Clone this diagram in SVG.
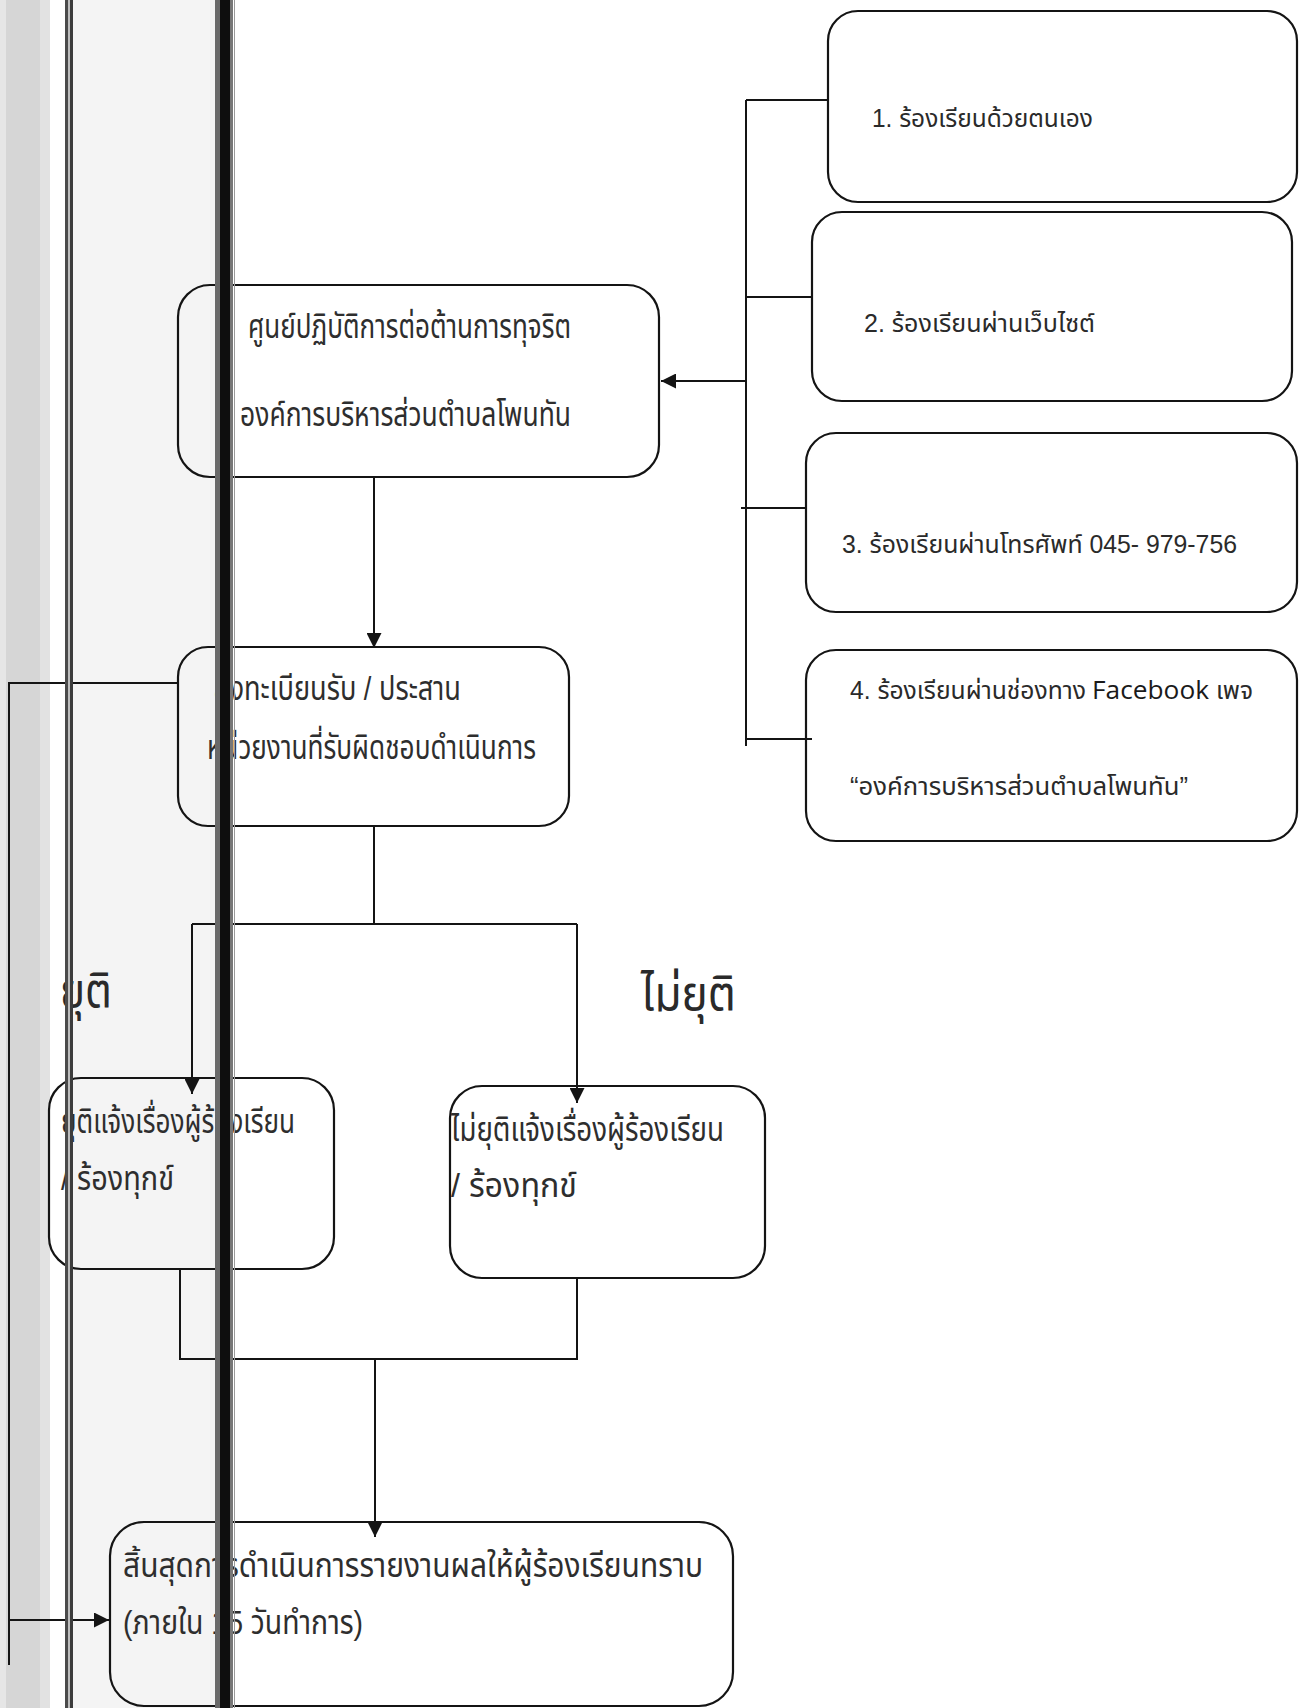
<svg xmlns="http://www.w3.org/2000/svg" width="1303" height="1708" viewBox="0 0 1303 1708">
<defs>
<style>
.box{fill:none;stroke:#141414;stroke-width:2.2}
.ln{fill:none;stroke:#141414;stroke-width:2}
.tl{font-family:"Liberation Sans","Noto Sans Thai","Noto Sans",sans-serif;fill:#2e2e2e;font-size:33px}
.tr{font-family:"Liberation Sans","Noto Sans Thai","Noto Sans",sans-serif;fill:#2a2a2a;font-size:25px}
.fb{font-family:"Open Sans","Lato",sans-serif;fill:#1a1a1a;font-size:25px}
.big{font-family:"Liberation Sans","Noto Sans Thai","Noto Sans",sans-serif;fill:#2a2a2a;font-size:50px}
</style>
<marker id="arr" viewBox="0 0 10 10" refX="10" refY="5" markerWidth="17" markerHeight="15" markerUnits="userSpaceOnUse" orient="auto">
<path d="M0,0 L10,5 L0,10 z" fill="#141414"/>
</marker>
</defs>
<rect x="0" y="0" width="1303" height="1708" fill="#ffffff"/>
<g id="scan-bg">
<rect x="0" y="0" width="50" height="1708" fill="#d6d6d6"/>
<rect x="0" y="0" width="6" height="1708" fill="#e6e6e6"/>
<rect x="40" y="0" width="10" height="1708" fill="#e2e2e2"/>
<rect x="73" y="0" width="142" height="1708" fill="#f4f4f4"/>
</g>
<g id="connectors">
<path class="ln" d="M746,100 V746"/>
<path class="ln" d="M746,100 H828"/>
<path class="ln" d="M746,297 H812"/>
<path class="ln" d="M741,508 H806"/>
<path class="ln" d="M746,739 H812"/>
<path class="ln" d="M746,381 H661" marker-end="url(#arr)"/>
<path class="ln" d="M374,477 V648" marker-end="url(#arr)"/>
<path class="ln" d="M374,826 V924 M192,924 H577"/>
<path class="ln" d="M192,924 V1094" marker-end="url(#arr)"/>
<path class="ln" d="M577,924 V1103" marker-end="url(#arr)"/>
<path class="ln" d="M180,1269 V1359 H577 V1278"/>
<path class="ln" d="M375,1359 V1537" marker-end="url(#arr)"/>
<path class="ln" d="M178,683 H9 V1665"/>
<path class="ln" d="M9,1620 H109" marker-end="url(#arr)"/>
</g>
<g id="node-center">
<rect class="box" x="178" y="285" width="481" height="192" rx="32"/>
<text class="tl" x="248" y="338" textLength="323" lengthAdjust="spacingAndGlyphs">ศูนย์ปฏิบัติการต่อต้านการทุจริต</text>
<text class="tl" x="240" y="426" textLength="331" lengthAdjust="spacingAndGlyphs">องค์การบริหารส่วนตำบลโพนทัน</text>
</g>
<g id="node-c1">
<rect class="box" x="828" y="11" width="469" height="191" rx="30"/>
<text class="tr" x="872" y="127" textLength="221" lengthAdjust="spacingAndGlyphs">1. ร้องเรียนด้วยตนเอง</text>
</g>
<g id="node-c2">
<rect class="box" x="812" y="212" width="480" height="189" rx="30"/>
<text class="tr" x="864" y="332" textLength="231" lengthAdjust="spacingAndGlyphs">2. ร้องเรียนผ่านเว็บไซต์</text>
</g>
<g id="node-c3">
<rect class="box" x="806" y="433" width="491" height="179" rx="30"/>
<text class="tr" x="842" y="553" textLength="395" lengthAdjust="spacingAndGlyphs">3. ร้องเรียนผ่านโทรศัพท์ 045- 979-756</text>
</g>
<g id="node-c4">
<rect class="box" x="806" y="650" width="491" height="191" rx="30"/>
<text class="tr" x="850" y="699" textLength="236" lengthAdjust="spacingAndGlyphs">4. ร้องเรียนผ่านช่องทาง</text>
<text class="fb" x="1092" y="699" textLength="117" lengthAdjust="spacingAndGlyphs">Facebook</text>
<text class="tr" x="1216" y="699" textLength="37" lengthAdjust="spacingAndGlyphs">เพจ</text>
<text class="tr" x="850" y="795" textLength="338" lengthAdjust="spacingAndGlyphs">“องค์การบริหารส่วนตำบลโพนทัน”</text>
</g>
<g id="node-register">
<rect class="box" x="178" y="647" width="391" height="179" rx="30"/>
<text class="tl" x="214" y="700" textLength="247" lengthAdjust="spacingAndGlyphs">ลงทะเบียนรับ / ประสาน</text>
<text class="tl" x="207" y="759" textLength="329" lengthAdjust="spacingAndGlyphs">หน่วยงานที่รับผิดชอบดำเนินการ</text>
</g>
<g id="label-yes">
<text class="big" x="60" y="1008" textLength="52" lengthAdjust="spacingAndGlyphs">ยุติ</text>
</g>
<g id="label-no">
<text class="big" x="641" y="1011" textLength="95" lengthAdjust="spacingAndGlyphs">ไม่ยุติ</text>
</g>
<g id="node-resolved">
<rect class="box" x="49" y="1078" width="285" height="191" rx="32"/>
<text class="tl" x="61" y="1133" textLength="234" lengthAdjust="spacingAndGlyphs">ยุติแจ้งเรื่องผู้ร้องเรียน</text>
<text class="tl" x="61" y="1190" textLength="113" lengthAdjust="spacingAndGlyphs">/ ร้องทุกข์</text>
</g>
<g id="node-unresolved">
<rect class="box" x="450" y="1086" width="315" height="192" rx="32"/>
<text class="tl" x="451" y="1141" textLength="273" lengthAdjust="spacingAndGlyphs">ไม่ยุติแจ้งเรื่องผู้ร้องเรียน</text>
<text class="tl" x="451" y="1197" textLength="126" lengthAdjust="spacingAndGlyphs">/ ร้องทุกข์</text>
</g>
<g id="node-end">
<rect class="box" x="110" y="1522" width="623" height="184" rx="34"/>
<text class="tl" x="123" y="1577" textLength="580" lengthAdjust="spacingAndGlyphs">สิ้นสุดการดำเนินการรายงานผลให้ผู้ร้องเรียนทราบ</text>
<text class="tl" x="123" y="1634" textLength="240" lengthAdjust="spacingAndGlyphs">(ภายใน 15 วันทำการ)</text>
</g>
<g id="scan-bars">
<rect x="65" y="0" width="3" height="1708" fill="#4a4a4a"/>
<rect x="68" y="0" width="2" height="1708" fill="#bdbdbd"/>
<rect x="70" y="0" width="3" height="1708" fill="#3c3c3c"/>
<rect x="215" y="0" width="5" height="1708" fill="#6a6a6a"/>
<rect x="220" y="0" width="10" height="1708" fill="#0e0e0e"/>
<rect x="230" y="0" width="3" height="1708" fill="#777777"/>
<rect x="234" y="0" width="1" height="1708" fill="#9a9a9a"/>
</g>
</svg>
